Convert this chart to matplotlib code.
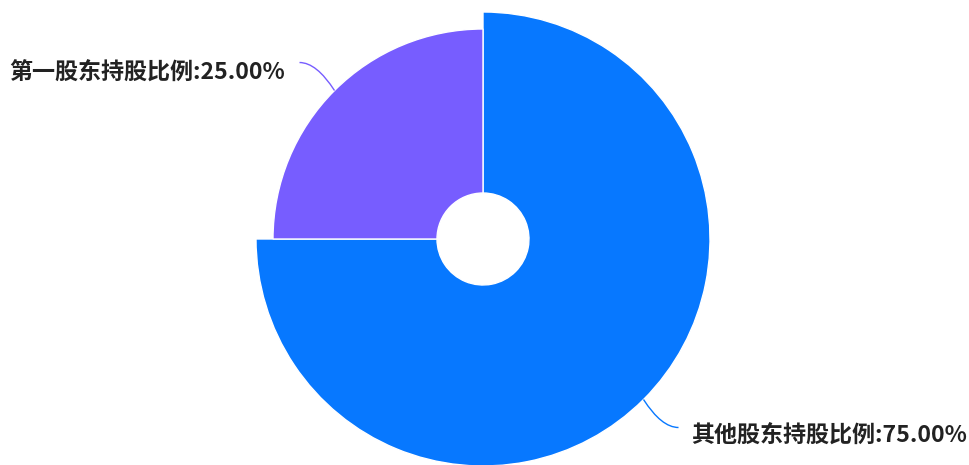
import matplotlib.pyplot as plt
from matplotlib.patches import Wedge, PathPatch
from matplotlib.path import Path
import numpy as np

plt.rcParams['font.family'] = ['Noto Sans CJK SC', 'DejaVu Sans']

# 数据
labels = ['其他股东持股比例', '第一股东持股比例']
shares = [75.0, 25.0]
colors = ['#0778FF', '#775DFF']
# 玫瑰图半径（像素）
outer_radius = [227, 210]
inner_radius = 46

W, H = 969, 465
cx, cy = 483, H - 239

fig = plt.figure(figsize=(W / 100, H / 100), dpi=100)
ax = fig.add_axes([0, 0, 1, 1])
ax.set_xlim(0, W)
ax.set_ylim(0, H)
ax.axis('off')

total = sum(shares)
start = 90.0  # 从顶部开始顺时针
for lab, val, col, r in zip(labels, shares, colors, outer_radius):
    sweep = 360.0 * val / total
    t2 = start
    t1 = start - sweep
    ax.add_patch(Wedge((cx, cy), r, t1, t2, width=r - inner_radius,
                       facecolor=col, edgecolor='white', linewidth=1))
    mid = np.radians((t1 + t2) / 2)
    px, py = cx + r * np.cos(mid), cy + r * np.sin(mid)
    # 引导线
    sx = 1 if np.cos(mid) > 0 else -1
    ex = px + sx * 35
    ey = py + (28 if np.sin(mid) > 0 else -28)
    ctrl = (px + sx * 18, ey)
    path = Path([(px, py), ctrl, (ex, ey)], [Path.MOVETO, Path.CURVE3, Path.CURVE3])
    ax.add_patch(PathPatch(path, fill=False, edgecolor=col, linewidth=1))
    txt = f'{lab}:{val:.2f}%'
    if sx > 0:
        ax.text(ex + 13, ey - 8, txt, ha='left', va='center', fontsize=16.6,
                fontweight='bold', color='#222222')
    else:
        ax.text(ex - 15, ey - 10, txt, ha='right', va='center', fontsize=16.6,
                fontweight='bold', color='#222222')
    start = t1

fig.savefig('out.png', dpi=100)
